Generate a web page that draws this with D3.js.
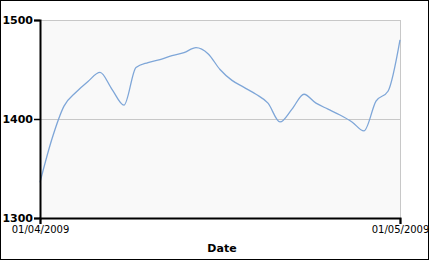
<!DOCTYPE html>
<html>
<head>
<meta charset="utf-8">
<script src="https://cdn.jsdelivr.net/npm/d3@7"></script>
<style>
  body { margin: 0; background: #fff; }
  text { font-family: 'DejaVu Sans', Verdana, sans-serif; }
</style>
</head>
<body>
<div id="chart"></div>
<script>
var w = 430;
var h = 261;
var margin = {top: 20, right: 30, bottom: 43, left: 40};

// daily values, April 2009
var dates = ['2009-04-01', '2009-04-02', '2009-04-03', '2009-04-04', '2009-04-05', '2009-04-06',
  '2009-04-07', '2009-04-08', '2009-04-09', '2009-04-10', '2009-04-11', '2009-04-12',
  '2009-04-13', '2009-04-14', '2009-04-15', '2009-04-16', '2009-04-17', '2009-04-18',
  '2009-04-19', '2009-04-20', '2009-04-21', '2009-04-22', '2009-04-23', '2009-04-24',
  '2009-04-25', '2009-04-26', '2009-04-27', '2009-04-28', '2009-04-29', '2009-04-30',
  '2009-05-01'];
var values = [1336, 1380, 1413, 1427, 1438, 1447, 1430, 1414, 1452, 1457, 1460, 1464,
  1467, 1472, 1466, 1450, 1439, 1432, 1425, 1416, 1397, 1410, 1425, 1416, 1410,
  1404, 1397, 1388, 1418, 1428, 1480];
var yTicks = [1300, 1400, 1500];
var xTickLabels = ['01/04/2009', '01/05/2009'];

var parse = d3.timeParse('%Y-%m-%d');
var data = dates.map(function(d, i) {
  return {date: parse(d), value: values[i]};
});

var svg = d3.select('#chart').append('svg')
  .attr('width', w)
  .attr('height', h);

// outer frame
svg.append('rect')
  .attr('x', 0.5).attr('y', 0.5)
  .attr('width', 428).attr('height', 259)
  .attr('fill', '#fff')
  .attr('stroke', '#000');

var x = d3.scaleTime()
  .domain(d3.extent(data, function(d) { return d.date; }))
  .range([margin.left, w - margin.right]);
var y = d3.scaleLinear()
  .domain([1300, 1500])
  .range([h - margin.bottom, margin.top]);

// plot background
svg.append('rect')
  .attr('x', x.range()[0]).attr('y', y(1500))
  .attr('width', x.range()[1] - x.range()[0])
  .attr('height', y(1300) - y(1500))
  .attr('fill', '#f9f9f9');

// gridlines
svg.append('g').selectAll('line')
  .data(yTicks.slice(1))
  .enter().append('line')
  .attr('x1', x.range()[0]).attr('x2', x.range()[1])
  .attr('y1', function(d) { return Math.round(y(d)) + 0.5; })
  .attr('y2', function(d) { return Math.round(y(d)) + 0.5; })
  .attr('stroke', '#c8c8c8');

// right border of plot
svg.append('line')
  .attr('x1', x.range()[1] + 0.5).attr('x2', x.range()[1] + 0.5)
  .attr('y1', y(1500)).attr('y2', y(1300))
  .attr('stroke', '#c8c8c8');

// line
var line = d3.line()
  .x(function(d) { return x(d.date); })
  .y(function(d) { return y(d.value); })
  .curve(d3.curveMonotoneX);

svg.append('path')
  .datum(data)
  .attr('d', line)
  .attr('fill', 'none')
  .attr('stroke', '#7ea6d8')
  .attr('stroke-width', 1.3);

// y axis
var yAxis = d3.axisLeft(y)
  .tickValues(yTicks)
  .tickSize(6)
  .tickFormat(d3.format('d'));
var gy = svg.append('g')
  .attr('transform', 'translate(' + x.range()[0] + ',0)')
  .call(yAxis);
gy.select('.domain').attr('stroke', '#000').attr('stroke-width', 2);
gy.selectAll('.tick line').attr('stroke', '#000').attr('stroke-width', 1.5);
gy.selectAll('.tick text')
  .attr('x', -7)
  .attr('font-size', 11)
  .attr('font-weight', 'bold')
  .attr('font-family', "'DejaVu Sans', Verdana, sans-serif")
  .attr('fill', '#000');

// x axis
var xAxis = d3.axisBottom(x)
  .tickValues(x.domain())
  .tickSize(6)
  .tickFormat(function(d, i) { return xTickLabels[i]; });
var gx = svg.append('g')
  .attr('transform', 'translate(0,' + y(1300) + ')')
  .call(xAxis);
gx.select('.domain').attr('stroke', '#000').attr('stroke-width', 2);
gx.selectAll('.tick line').attr('stroke', '#000').attr('stroke-width', 1.5);
gx.selectAll('.tick text')
  .attr('y', 8)
  .attr('font-size', 10)
  .attr('font-family', "'DejaVu Sans', Verdana, sans-serif")
  .attr('fill', '#000');

// axis title
svg.append('text')
  .attr('x', (x.range()[0] + x.range()[1]) / 2 + 2)
  .attr('y', 252)
  .attr('text-anchor', 'middle')
  .attr('font-size', 11)
  .attr('font-weight', 'bold')
  .text('Date');
</script>
</body>
</html>
